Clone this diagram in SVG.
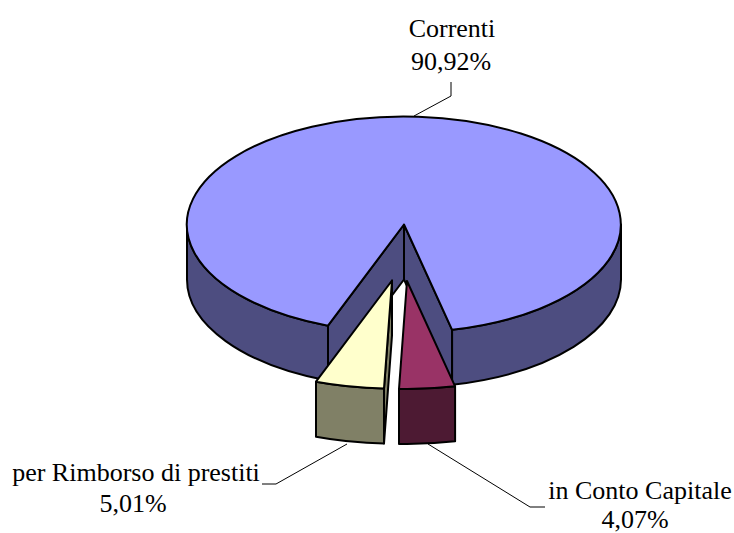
<svg xmlns="http://www.w3.org/2000/svg" width="734" height="533" viewBox="0 0 734 533">
<style>
.e{stroke:#000;stroke-width:2;stroke-linejoin:round}
.t1{fill:#9999FF}.s1{fill:#4D4D80}
.t2{fill:#FFFFCC}.s2{fill:#808066}
.t3{fill:#993366}.s3{fill:#4D1A33}
.lbl{font-size:26px;fill:#000;text-anchor:middle}
.ld{fill:none;stroke:#000;stroke-width:1}
</style>
<rect width="734" height="533" fill="#fff"/>
<g id="slice-correnti">
<path class="e s1" d="M404,224.5 L328,325.7 L328,380.7 L404,279.5 Z"/>
<path class="e s1" d="M404,224.5 L452.1,329.8 L452.1,384.8 L404,279.5 Z"/>
<path class="e s1" d="M187,224.5 A217,108 0 0 0 328,325.7 L328,380.7 A217,108 0 0 1 187,279.5 Z"/>
<path class="e s1" d="M452.1,329.8 A217,108 0 0 0 621,224.5 L621,279.5 A217,108 0 0 1 452.1,384.8 Z"/>
<path class="e t1" d="M404,224.5 L328,325.7 A217,108 0 1 1 452.1,329.8 Z"/>
</g>
<g id="slice-rimborso">
<path class="e s2" d="M392,280.5 L384,388.4 L384,443.4 L392,335.5 Z"/>
<path class="e s2" d="M316,381.7 A217,108 0 0 0 384,388.4 L384,443.4 A217,108 0 0 1 316,436.7 Z"/>
<path class="e t2" d="M392,280.5 L316,381.7 A217,108 0 0 0 384,388.4 Z"/>
</g>
<g id="slice-capitale">
<path class="e s3" d="M399,388.9 A217,108 0 0 0 455.1,386.3 L455.1,441.3 A217,108 0 0 1 399,443.9 Z"/>
<path class="e t3" d="M407,281 L399,388.9 A217,108 0 0 0 455.1,386.3 Z"/>
</g>
<g id="connectors">
<polyline class="ld" points="451,82 451,96 414,116"/>
<polyline class="ld" points="347,444 276,484 262,484"/>
<polyline class="ld" points="428,444 530,507 545,507"/>
</g>
<g font-family="'Liberation Serif', 'Times New Roman', Times, serif">
<g id="label-correnti">
<text class="lbl" x="452" y="37">Correnti</text>
<text class="lbl" x="451" y="70">90,92%</text>
</g>
<g id="label-rimborso">
<text class="lbl" x="136" y="481">per Rimborso di prestiti</text>
<text class="lbl" x="133" y="512">5,01%</text>
</g>
<g id="label-capitale">
<text class="lbl" x="640" y="499">in Conto Capitale</text>
<text class="lbl" x="635" y="528">4,07%</text>
</g>
</g>
</svg>
